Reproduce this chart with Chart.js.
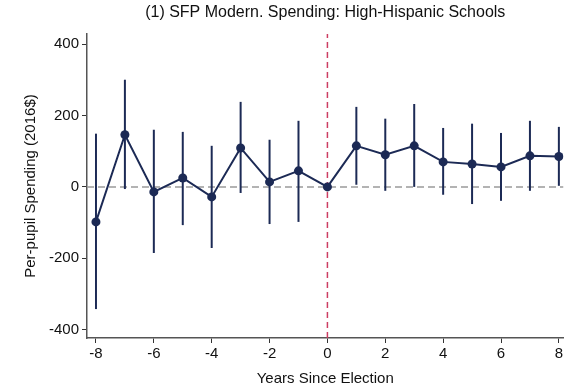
<!DOCTYPE html>
<html lang="en">
<head>
    <meta charset="UTF-8">
    <title>SFP Modern. Spending: High-Hispanic Schools</title>
    <script src="https://cdn.jsdelivr.net/npm/chart.js"></script>
    <style>
        html, body { margin: 0; padding: 0; background: #fff; }
        .chart-container { width: 568px; height: 390px; }
    </style>
</head>
<body>
<div class="chart-container">
    <canvas id="eventChart" width="568" height="390"></canvas>
</div>
<script>
    // event-study estimates
    const years     = [-8, -7, -6, -5, -4, -3, -2, -1, 0, 1, 2, 3, 4, 5, 6, 7, 8];
    const estimates = [-98, 146, -14, 25, -28, 109, 14, 45, 0, 115, 90, 115, 70, 64, 56, 87, 85];
    const ciLow     = [-342, -6, -185, -107, -171, -17, -104, -98, null, 6, -11, 0, -22, -48, -39, -11, 3];
    const ciHigh    = [149, 300, 160, 154, 115, 238, 132, 185, null, 224, 191, 232, 165, 177, 151, 185, 168];
    const xTicks = [-8, -6, -4, -2, 0, 2, 4, 6, 8];
    const yTicks = [-400, -200, 0, 200, 400];

    const navy = '#1c2a55';
    const family = 'Liberation Sans, Arial, sans-serif';
    const font = { family: family, size: 15 };

    // vertical CI whiskers, drawn through the chart's own scales
    const ciBars = {
        id: 'ciBars',
        afterDatasetsDraw(chart) {
            const ctx = chart.ctx;
            const xs = chart.scales.x, ys = chart.scales.y;
            ctx.save();
            ctx.strokeStyle = navy;
            ctx.lineWidth = 2;
            years.forEach((yr, i) => {
                if (ciLow[i] === null) return;
                const px = xs.getPixelForValue(yr);
                ctx.beginPath();
                ctx.moveTo(px, ys.getPixelForValue(ciLow[i]));
                ctx.lineTo(px, ys.getPixelForValue(ciHigh[i]));
                ctx.stroke();
            });
            ctx.restore();
        }
    };

    new Chart(document.getElementById('eventChart'), {
        type: 'line',
        data: {
            datasets: [
                {
                    label: 'Estimate',
                    data: years.map((yr, i) => ({ x: yr, y: estimates[i] })),
                    borderColor: navy,
                    backgroundColor: navy,
                    borderWidth: 2,
                    pointRadius: 4.5,
                    pointBorderWidth: 0,
                    pointHoverRadius: 4.5,
                    tension: 0,
                    order: 0
                },
                {
                    label: 'Election',
                    data: [{ x: 0, y: -423 }, { x: 0, y: 428 }],
                    borderColor: '#cc3d62',
                    borderWidth: 1.5,
                    borderDash: [6, 4],
                    pointRadius: 0,
                    order: 2
                },
                {
                    label: 'Zero',
                    data: [{ x: -8.31, y: 0 }, { x: 8.16, y: 0 }],
                    borderColor: '#9a9a9a',
                    borderWidth: 1.5,
                    borderDash: [7, 4],
                    pointRadius: 0,
                    order: 3
                }
            ]
        },
        options: {
            responsive: false,
            animation: false,
            layout: { padding: { top: 0, right: 0, left: 0, bottom: 0 } },
            plugins: {
                legend: { display: false },
                tooltip: { enabled: false },
                title: {
                    display: true,
                    fullSize: false,
                    text: '(1) SFP Modern. Spending: High-Hispanic Schools',
                    color: '#111',
                    font: { family: family, size: 16, weight: 'normal' },
                    padding: { top: 3.4, bottom: 11.4 }
                }
            },
            scales: {
                x: {
                    type: 'linear',
                    min: -8.31,
                    max: 8.16,
                    afterBuildTicks: s => { s.ticks = xTicks.map(v => ({ value: v })); },
                    afterFit: s => { s.height = 52; s.paddingRight = 0; s.paddingLeft = 0; },
                    ticks: { color: '#111', font: font, padding: 2, maxRotation: 0 },
                    grid: { drawOnChartArea: false, drawTicks: true, tickLength: 5, color: '#333' },
                    border: { display: true, color: '#555', width: 1.5 },
                    title: {
                        display: true,
                        text: 'Years Since Election',
                        color: '#111',
                        font: font,
                        padding: { top: 0, bottom: 2 }
                    }
                },
                y: {
                    type: 'linear',
                    min: -423,
                    max: 428,
                    afterBuildTicks: s => { s.ticks = yTicks.map(v => ({ value: v })); },
                    afterFit: s => { s.width = 87; },
                    ticks: { color: '#111', font: font, padding: 3 },
                    grid: { drawOnChartArea: false, drawTicks: true, tickLength: 5, color: '#333' },
                    border: { display: true, color: '#555', width: 1.5 },
                    title: {
                        display: true,
                        text: 'Per-pupil Spending (2016$)',
                        color: '#111',
                        font: font,
                        padding: { top: 22, bottom: 0 }
                    }
                }
            }
        },
        plugins: [ciBars]
    });
</script>
</body>
</html>
